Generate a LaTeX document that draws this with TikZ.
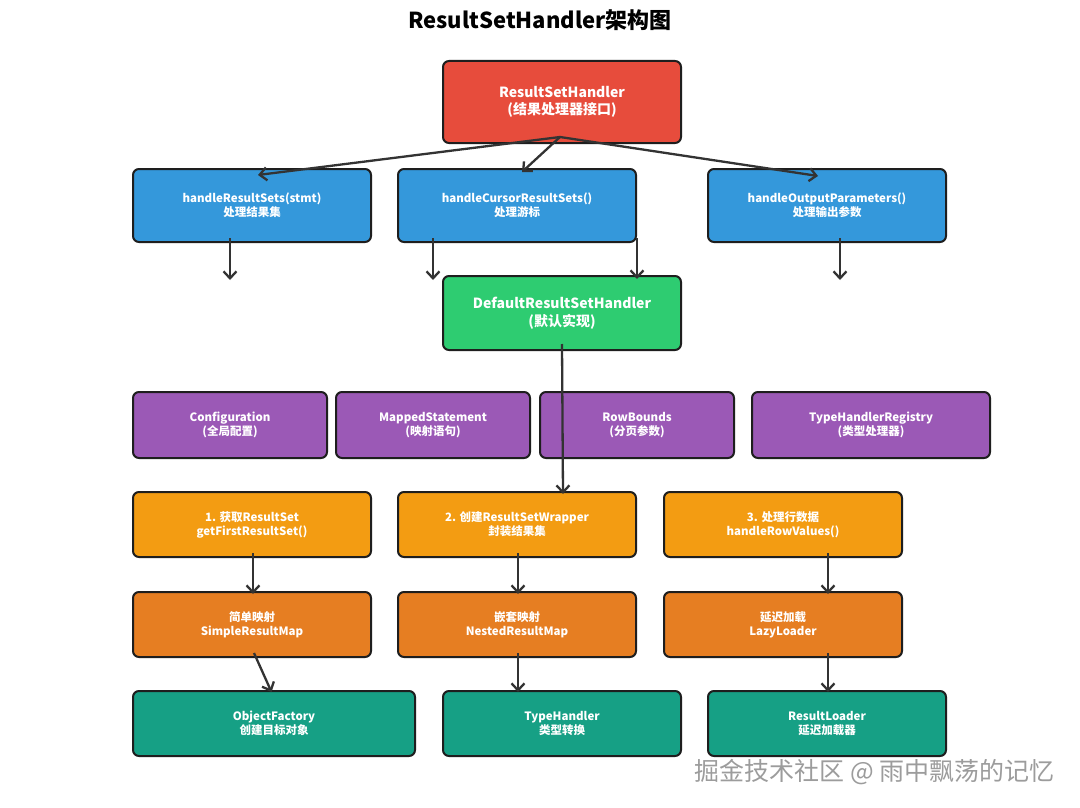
\documentclass[tikz,border=0pt]{standalone}
\usepackage{fontspec}
\setmainfont{Noto Sans CJK SC}
\usetikzlibrary{arrows.meta,calc}
\definecolor{cred}{HTML}{E74C3C}
\definecolor{cblue}{HTML}{3498DB}
\definecolor{cgreen}{HTML}{2ECC71}
\definecolor{cpurple}{HTML}{9B59B6}
\definecolor{corange}{HTML}{F39C12}
\definecolor{cdorange}{HTML}{E67E22}
\definecolor{cteal}{HTML}{16A085}
\definecolor{boxline}{HTML}{1E1E1E}
\definecolor{arrowc}{HTML}{333333}
\definecolor{wmark}{HTML}{9C9C9C}
\begin{document}
\begin{tikzpicture}[x=1pt,y=-1pt,
  box/.style={draw=boxline, line width=2pt, rounded corners=6pt, text=white,
    font=\bfseries\fontsize{11.5}{14}\selectfont, align=center, inner sep=0pt},
  bigbox/.style={box, font=\bfseries\fontsize{14}{17.5}\selectfont},
  arr/.style={draw=arrowc, line width=2.3pt, -{Straight Barb[length=7pt,width=13pt]}}]
\useasboundingbox (0,0) rectangle (1080,808);
\fill[white] (0,0) rectangle (1080,808);

\node[font=\bfseries\fontsize{22}{26}\selectfont] (title) at (540,20) {ResultSetHandler架构图};

\node[bigbox, fill=cred, minimum width=238pt, minimum height=82pt] (red) at (562,102) {ResultSetHandler\\(结果处理器接口)};

\node[box, fill=cblue, minimum width=238pt, minimum height=73pt] (b1) at (252,205.5) {handleResultSets(stmt)\\处理结果集};
\node[box, fill=cblue, minimum width=238pt, minimum height=73pt] (b2) at (517,205.5) {handleCursorResultSets()\\处理游标};
\node[box, fill=cblue, minimum width=238pt, minimum height=73pt] (b3) at (827,205.5) {handleOutputParameters()\\处理输出参数};

\node[bigbox, fill=cgreen, minimum width=238pt, minimum height=74pt] (green) at (562,313) {DefaultResultSetHandler\\(默认实现)};

\node[box, fill=cpurple, minimum width=194pt, minimum height=66pt] (p1) at (230,425) {Configuration\\(全局配置)};
\node[box, fill=cpurple, minimum width=194pt, minimum height=66pt] (p2) at (433,425) {MappedStatement\\(映射语句)};
\node[box, fill=cpurple, minimum width=194pt, minimum height=66pt] (p3) at (637,425) {RowBounds\\(分页参数)};
\node[box, fill=cpurple, minimum width=238pt, minimum height=66pt] (p4) at (871,425) {TypeHandlerRegistry\\(类型处理器)};

\node[box, fill=corange, minimum width=238pt, minimum height=65pt] (o11) at (252,524.5) {1. 获取ResultSet\\getFirstResultSet()};
\node[box, fill=corange, minimum width=238pt, minimum height=65pt] (o12) at (517,524.5) {2. 创建ResultSetWrapper\\封装结果集};
\node[box, fill=corange, minimum width=238pt, minimum height=65pt] (o13) at (783,524.5) {3. 处理行数据\\handleRowValues()};

\node[box, fill=cdorange, minimum width=238pt, minimum height=65pt] (o21) at (252,624.5) {简单映射\\SimpleResultMap};
\node[box, fill=cdorange, minimum width=238pt, minimum height=65pt] (o22) at (517,624.5) {嵌套映射\\NestedResultMap};
\node[box, fill=cdorange, minimum width=238pt, minimum height=65pt] (o23) at (783,624.5) {延迟加载\\LazyLoader};

\node[box, fill=cteal, minimum width=282pt, minimum height=65pt] (t1) at (274,723.5) {ObjectFactory\\创建目标对象};
\node[box, fill=cteal, minimum width=238pt, minimum height=65pt] (t2) at (562,723.5) {TypeHandler\\类型转换};
\node[box, fill=cteal, minimum width=238pt, minimum height=65pt] (t3) at (827,723.5) {ResultLoader\\延迟加载器};

\coordinate (e1) at (230,280);
\coordinate (e2) at (433,280);
\coordinate (e3) at (840,280);

\draw[arr] ($(red.south)+(-2,-7)$) -- ($(b1.north)+(6,7)$);
\draw[arr] ($(red.south)+(-2,-7)$) -- ($(b2.north)+(5,4)$);
\draw[arr] ($(red.south)+(-2,-7)$) -- ($(b3.north)+(-9,8)$);

\draw[arr] ($(b1.south)+(-22,-5)$) -- (e1);
\draw[arr] ($(b2.south)+(-84,-5)$) -- (e2);
\draw[arr] ($(b2.south)+(120,-5)$) -- ($(green.north)+(75,4)$);
\draw[arr] ($(b3.south)+(13,-5)$) -- (e3);

\draw[arr] ($(green.south)+(0,-7)$) -- ($(o12.north)+(46,3)$);

\draw[arr] ($(o11.south)+(1,-5)$) -- ($(o21.north)+(1,3)$);
\draw[arr] ($(o12.south)+(1,-5)$) -- ($(o22.north)+(1,3)$);
\draw[arr] ($(o13.south)+(45,-5)$) -- ($(o23.north)+(45,3)$);

\draw[arr] ($(o21.south)+(2,-5)$) -- ($(t1.north)+(-2.5,2)$);
\draw[arr] ($(o22.south)+(1,-5)$) -- ($(t2.north)+(-44,2)$);
\draw[arr] ($(o23.south)+(45,-5)$) -- ($(t3.north)+(1,2)$);

\node[text=wmark, font=\fontsize{25}{29}\selectfont, anchor=east] (wm) at (1058,772) {掘金技术社区 @ 雨中飘荡的记忆};
\end{tikzpicture}
\end{document}
